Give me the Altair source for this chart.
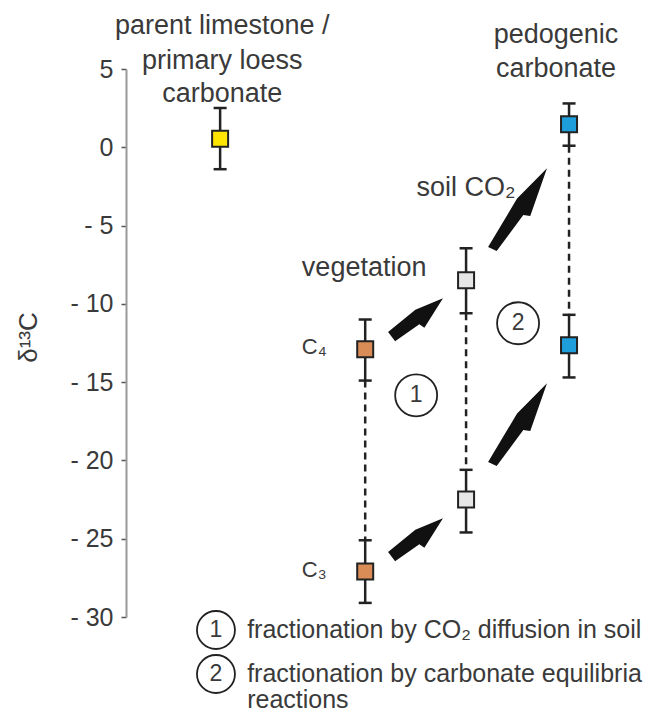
import math
import altair as alt
import pandas as pd

FONT = "Liberation Sans, Arial, sans-serif"
TXT = "#3a3a3a"

# ---- layout constants (pixels) ----
W, H = 520, 548
X_DOM = [0, 10]
Y_DOM = [-30, 5]
PX_X = W / (X_DOM[1] - X_DOM[0])
PX_Y = H / (Y_DOM[1] - Y_DOM[0])

# ---- samples (delta 13C values) ----
sample_names = ["parent limestone / primary loess carbonate", "C4 vegetation", "C3 vegetation",
                "soil CO2 (C4)", "soil CO2 (C3)", "pedogenic carbonate (C4)", "pedogenic carbonate (C3)"]
sample_x = [1.81, 4.6, 4.6, 6.54, 6.54, 8.52, 8.52]
sample_value = [0.55, -12.9, -27.1, -8.5, -22.5, 1.47, -12.64]
sample_low = [-1.4, -14.9, -29.1, -10.6, -24.6, 0.1, -14.7]
sample_high = [2.51, -11.0, -25.1, -6.45, -20.6, 2.8, -10.7]
sample_color = ["#FFE600", "#D98C55", "#D98C55", "#E6E6E6", "#E6E6E6", "#1E9FDB", "#1E9FDB"]

# dashed connectors between the paired samples (upper index, lower index)
pairs = [(1, 2), (3, 4), (5, 6)]

# ---- arrows (tail -> tip) ----
arrow_tail_x = [5.115, 5.115, 7.058, 7.058]
arrow_tail_y = [-12.13, -26.18, -6.58, -20.31]
arrow_tip_x = [6.096, 6.096, 8.096, 8.096]
arrow_tip_y = [-9.64, -23.69, -1.34, -15.07]
arrow_kind = ["short", "short", "long", "long"]

# ---- text annotations ----
head_text = ["parent limestone /", "primary loess", "carbonate", "pedogenic", "carbonate",
             "soil CO₂", "vegetation"]
head_x = [1.85, 1.85, 1.85, 8.27, 8.27, 6.54, 4.58]
head_y = [7.75, 5.5, 3.4, 7.2, 4.98, -2.62, -7.73]

c_text = ["C₄", "C₃"]
c_x = [3.38, 3.38]
c_y = [-12.76, -27.0]

circ_text = ["1", "2"]
circ_x = [5.58, 7.54]
circ_y = [-15.84, -11.24]

leg_circ_text = ["1", "2"]
leg_circ_x = [1.73, 1.73]
leg_circ_y = [-30.83, -33.64]

leg_text = ["fractionation by CO₂ diffusion in soil", "fractionation by carbonate equilibria", "reactions"]
leg_x = [2.33, 2.33, 2.33]
leg_y = [-30.83, -33.64, -35.3]

tick_values = [5, 0, -5, -10, -15, -20, -25, -30]

# ---- tables ----
samples = pd.DataFrame({"name": sample_names, "x": sample_x, "v": sample_value,
                        "lo": sample_low, "hi": sample_high, "color": sample_color})
conn = pd.DataFrame({
    "x": [sample_x[a] for a, b in pairs],
    "y1": [sample_low[a] for a, b in pairs],
    "y2": [sample_high[b] for a, b in pairs],
})

arrows = []
for tx, ty, hx, hy, k in zip(arrow_tail_x, arrow_tail_y, arrow_tip_x, arrow_tip_y, arrow_kind):
    dx = (hx - tx) * PX_X
    dy = (hy - ty) * PX_Y
    arrows.append({"x": (tx + hx) / 2, "y": (ty + hy) / 2,
                   "angle": math.degrees(math.atan2(dx, dy)),
                   "size": dx * dx + dy * dy, "kind": k})
arrows = pd.DataFrame(arrows)

heads = pd.DataFrame({"t": head_text, "x": head_x, "y": head_y})
cl = pd.DataFrame({"t": c_text, "x": c_x, "y": c_y})
circ = pd.DataFrame({"t": circ_text, "x": circ_x, "y": circ_y})
lcirc = pd.DataFrame({"t": leg_circ_text, "x": leg_circ_x, "y": leg_circ_y})
leg = pd.DataFrame({"t": leg_text, "x": leg_x, "y": leg_y})

xs = alt.Scale(domain=X_DOM)
ys = alt.Scale(domain=Y_DOM)

def X(f="x"):
    return alt.X(f"{f}:Q", scale=xs, axis=None)

yaxis = alt.Axis(values=tick_values, grid=False, tickSize=5, tickColor="#555", tickWidth=1.5,
                 domainColor="#999", domainWidth=2, labelFontSize=25, labelColor=TXT,
                 labelFont=FONT, labelPadding=8,
                 labelExpr="datum.value < 0 ? '- ' + abs(datum.value) : datum.label",
                 title="δ¹³C", titleFont=FONT, titleFontSize=26, titleFontWeight="normal",
                 titleColor=TXT, titleAngle=270, titleX=-98, titleY=268,
                 titleAlign="center", titleBaseline="middle")

base_axis = alt.Chart(samples).mark_rule(strokeWidth=2.5, color="#222").encode(
    x=X(), y=alt.Y("lo:Q", scale=ys, axis=yaxis), y2="hi:Q")

connectors = alt.Chart(conn).mark_rule(strokeWidth=2.5, color="#222", strokeDash=[7, 5]).encode(
    x=X(), y=alt.Y("y1:Q", scale=ys), y2="y2:Q")

cap_lo = alt.Chart(samples).mark_tick(orient="horizontal", size=13, thickness=2.5,
                                      color="#222", opacity=1).encode(x=X(), y=alt.Y("lo:Q", scale=ys))
cap_hi = alt.Chart(samples).mark_tick(orient="horizontal", size=13, thickness=2.5,
                                      color="#222", opacity=1).encode(x=X(), y=alt.Y("hi:Q", scale=ys))

squares = alt.Chart(samples).mark_point(shape="square", filled=True, size=256, stroke="#222",
                                        strokeWidth=2, opacity=1).encode(
    x=X(), y=alt.Y("v:Q", scale=ys), fill=alt.Fill("color:N", scale=None))

SHORT = "M-0.2,1L0.16,1L0.2,0.08L0.38,0.02L0,-1L-0.24,-0.1Z"
LONG = "M-0.12,1L0.07,0.97L0.12,0.06L0.25,0L0,-1L-0.17,-0.15Z"

arrow_layers = []
for kind, path in [("short", SHORT), ("long", LONG)]:
    arrow_layers.append(
        alt.Chart(arrows[arrows["kind"] == kind]).mark_point(
            shape=path, filled=True, color="#111", opacity=1, strokeWidth=0).encode(
            x=X(), y=alt.Y("y:Q", scale=ys),
            angle=alt.Angle("angle:Q", scale=None), size=alt.Size("size:Q", scale=None)))

def text_layer(df, size, align="center"):
    return alt.Chart(df).mark_text(font=FONT, fontSize=size, color=TXT, align=align,
                                   baseline="middle").encode(
        x=X(), y=alt.Y("y:Q", scale=ys), text="t:N")

heads_l = text_layer(heads, 27)
c_l = text_layer(cl, 22, "left")

circles_main = alt.Chart(circ).mark_point(shape="circle", size=1764, filled=False, color="#222",
                                          strokeWidth=1.8, opacity=1).encode(
    x=X(), y=alt.Y("y:Q", scale=ys))
circles_leg = alt.Chart(lcirc).mark_point(shape="circle", size=1444, filled=False, color="#222",
                                          strokeWidth=1.8, opacity=1).encode(
    x=X(), y=alt.Y("y:Q", scale=ys))
circ_num = text_layer(circ, 23)
lcirc_num = text_layer(lcirc, 23)
leg_l = text_layer(leg, 25, "left")

chart = alt.layer(
    base_axis, connectors, cap_lo, cap_hi, squares, *arrow_layers,
    heads_l, c_l, circles_main, circles_leg, circ_num, lcirc_num, leg_l
).properties(
    width=W, height=H,
    autosize=alt.AutoSizeParams(type="none"),
    padding={"left": 118, "top": 61, "right": 12, "bottom": 97},
).configure_view(stroke=None)

chart.save("out.html", embed_options={"renderer": "svg", "actions": False})
